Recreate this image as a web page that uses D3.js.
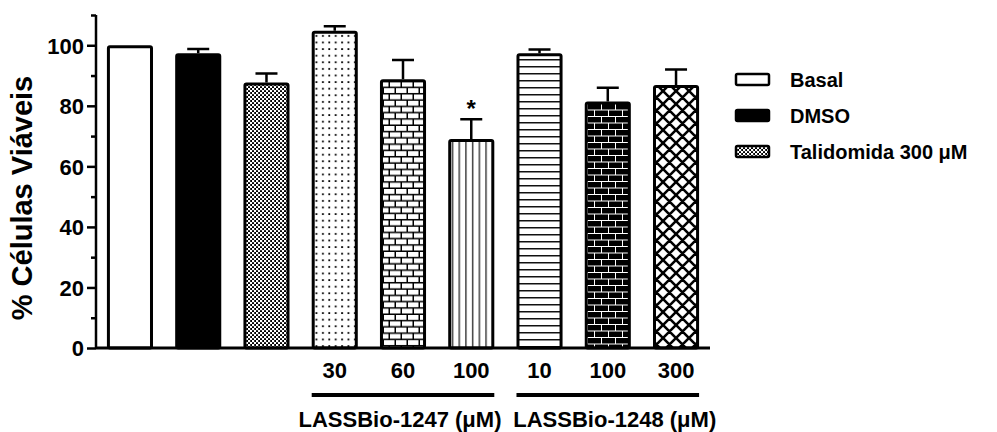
<!DOCTYPE html>
<html>
<head>
<meta charset="utf-8">
<script src="https://cdn.jsdelivr.net/npm/d3@7"></script>
<style>
  body { margin: 0; background: #fff; }
  text { font-family: "Liberation Sans", Arial, sans-serif; font-weight: bold; fill: #000; }
</style>
</head>
<body>
<div id="chart"></div>
<script>
(function(){

// data
let ids = ['basal', 'dmso', 'tali', 'a30', 'a60', 'a100', 'b10', 'b100', 'b300']
let tickLabels = ['', '', '', '30', '60', '100', '10', '100', '300']
let means = [100, 97.4, 87.7, 104.8, 88.8, 69.0, 97.4, 81.4, 86.9]
let sems = [0, 1.4, 3.0, 1.5, 6.3, 6.6, 1.2, 4.6, 5.1]
let fills = ['#fff', '#000', 'url(#checker)', 'url(#dots)', 'url(#brickW)', 'url(#vlines)', 'url(#hlines)', 'url(#brickB)', 'url(#cross)']
let groups = [
  { label: 'LASSBio-1247 (\u03bcM)', from: 'a30', to: 'a100' },
  { label: 'LASSBio-1248 (\u03bcM)', from: 'b10', to: 'b300' }
]
let legendLabels = ['Basal', 'DMSO', 'Talidomida 300 \u03bcM']
let stars = [{ id: 'a100', text: '*' }]

let width = 997, height = 432

let svg = d3.select('#chart').append('svg')
  .attr('width', width)
  .attr('height', height)

// patterns
let defs = svg.append('defs')

let p = defs.append('pattern').attr('id', 'checker').attr('patternUnits', 'userSpaceOnUse')
  .attr('width', 4).attr('height', 4)
p.append('rect').attr('width', 4).attr('height', 4).attr('fill', '#000')
p.append('rect').attr('x', 0).attr('y', 0).attr('width', 2.2).attr('height', 2.2).attr('fill', '#fff')
p.append('rect').attr('x', 2).attr('y', 2).attr('width', 2.2).attr('height', 2.2).attr('fill', '#fff')

p = defs.append('pattern').attr('id', 'dots').attr('patternUnits', 'userSpaceOnUse')
  .attr('width', 6.4).attr('height', 6.6)
p.append('rect').attr('width', 6.4).attr('height', 6.6).attr('fill', '#fff')
p.append('rect').attr('x', 2).attr('y', 2).attr('width', 1.8).attr('height', 1.8).attr('fill', '#000')

p = defs.append('pattern').attr('id', 'brickW').attr('patternUnits', 'userSpaceOnUse')
  .attr('width', 12).attr('height', 12.6)
p.append('rect').attr('width', 12).attr('height', 12.6).attr('fill', '#000')
p.append('rect').attr('x', 0).attr('y', 0).attr('width', 10.5).attr('height', 4.8).attr('fill', '#fff')
p.append('rect').attr('x', 6).attr('y', 6.3).attr('width', 10.5).attr('height', 4.8).attr('fill', '#fff')
p.append('rect').attr('x', -6).attr('y', 6.3).attr('width', 10.5).attr('height', 4.8).attr('fill', '#fff')

p = defs.append('pattern').attr('id', 'vlines').attr('patternUnits', 'userSpaceOnUse')
  .attr('width', 6.7).attr('height', 10)
p.append('rect').attr('width', 6.7).attr('height', 10).attr('fill', '#fff')
p.append('rect').attr('x', 3).attr('width', 1.3).attr('height', 10).attr('fill', '#222')

p = defs.append('pattern').attr('id', 'hlines').attr('patternUnits', 'userSpaceOnUse')
  .attr('width', 10).attr('height', 7)
p.append('rect').attr('width', 10).attr('height', 7).attr('fill', '#fff')
p.append('rect').attr('y', 3).attr('width', 10).attr('height', 1.5).attr('fill', '#111')

p = defs.append('pattern').attr('id', 'brickB').attr('patternUnits', 'userSpaceOnUse')
  .attr('width', 14).attr('height', 13)
p.append('rect').attr('width', 14).attr('height', 13).attr('fill', '#fff')
p.append('rect').attr('x', 0).attr('y', 0).attr('width', 13).attr('height', 5.5).attr('fill', '#000')
p.append('rect').attr('x', 7).attr('y', 6.5).attr('width', 13).attr('height', 5.5).attr('fill', '#000')
p.append('rect').attr('x', -7).attr('y', 6.5).attr('width', 13).attr('height', 5.5).attr('fill', '#000')

p = defs.append('pattern').attr('id', 'cross').attr('patternUnits', 'userSpaceOnUse')
  .attr('width', 13).attr('height', 13)
p.append('rect').attr('width', 13).attr('height', 13).attr('fill', '#fff')
p.append('path').attr('d', 'M-2,-2 L15,15 M-2,11 L2,15 M11,-2 L15,2 M15,-2 L-2,15 M2,-2 L-2,2 M15,11 L11,15')
  .attr('stroke', '#000').attr('stroke-width', 2.6)

// scales
let x = d3.scaleBand()
  .domain(ids)
  .range([96, 710])
  .paddingInner(0.325)
  .paddingOuter(0.16)

let y = d3.scaleLinear().domain([0, 110]).range([348, 15])

// y axis
let yAxis = d3.axisLeft(y).tickValues([0, 20, 40, 60, 80, 100]).tickSize(9).tickPadding(3)
let gy = svg.append('g').attr('transform', 'translate(96,0)').call(yAxis)
gy.select('.domain').attr('stroke-width', 2.5).attr('d', 'M0,' + y(110) + 'V' + y(0))
gy.selectAll('.tick line').attr('stroke-width', 2.5)
gy.selectAll('.tick text').style('font-size', '22px').attr('dy', '0.36em')

let minor = d3.axisLeft(y).tickValues([10, 30, 50, 70, 90, 110]).tickSize(5).tickFormat('')
let gm = svg.append('g').attr('transform', 'translate(96,0)').call(minor)
gm.select('.domain').remove()
gm.selectAll('.tick line').attr('stroke-width', 2.5)

svg.append('text')
  .attr('transform', 'translate(32,' + 198 + ') rotate(-90)')
  .attr('text-anchor', 'middle')
  .style('font-size', '29px')
  .text('% Células Viáveis')

// bars
let data = ids.map((id, i) => ({ id: id, mean: means[i], sem: sems[i], fill: fills[i], tick: tickLabels[i] }))

svg.selectAll('.err')
  .data(data.filter(d => d.sem > 0))
  .enter().append('path')
  .attr('class', 'err')
  .attr('fill', 'none')
  .attr('stroke', '#000')
  .attr('stroke-width', 2.5)
  .attr('d', function(d){
    let cx = x(d.id) + x.bandwidth() / 2
    return 'M' + cx + ',' + y(d.mean) + 'V' + y(d.mean + d.sem) + 'M' + (cx - 11) + ',' + y(d.mean + d.sem) + 'H' + (cx + 11)
  })

svg.selectAll('.bar')
  .data(data)
  .enter().append('rect')
  .attr('class', 'bar')
  .attr('x', d => x(d.id) + 1.5)
  .attr('width', x.bandwidth() - 3)
  .attr('y', d => y(d.mean) + 1.5)
  .attr('height', d => y(0) - y(d.mean) - 1.5)
  .attr('rx', 1.5)
  .attr('fill', d => d.fill)
  .attr('stroke', '#000')
  .attr('stroke-width', 3)

// x axis line
svg.append('path')
  .attr('d', 'M96,' + y(0) + 'H710')
  .attr('stroke', '#000')
  .attr('stroke-width', 3)

// category labels
svg.selectAll('.cat')
  .data(data.filter(d => d.tick))
  .enter().append('text')
  .attr('class', 'cat')
  .attr('x', d => x(d.id) + x.bandwidth() / 2)
  .attr('y', 378)
  .attr('text-anchor', 'middle')
  .style('font-size', '22px')
  .text(d => d.tick)

// group lines and labels
groups.forEach(function(g, i){
  let x0 = x(g.from), x1 = x(g.to) + x.bandwidth()
  svg.append('path')
    .attr('d', 'M' + x0 + ',395H' + x1)
    .attr('stroke', '#000')
    .attr('stroke-width', 4)
  svg.append('text')
    .attr('x', (x0 + x1) / 2 + (i === 0 ? -3 : 7))
    .attr('y', 427)
    .attr('text-anchor', 'middle')
    .style('font-size', '22px')
    .text(g.label)
})

// significance
stars.forEach(function(s){
  let d = data.find(e => e.id === s.id)
  svg.append('text')
    .attr('x', x(s.id) + x.bandwidth() / 2)
    .attr('y', y(d.mean + d.sem) - 2)
    .attr('text-anchor', 'middle')
    .style('font-size', '24px')
    .text(s.text)
})

// legend
let legend = svg.append('g').attr('transform', 'translate(735,73)')
legendLabels.forEach(function(l, i){
  let row = legend.append('g').attr('transform', 'translate(0,' + (i * 36) + ')')
  row.append('rect')
    .attr('x', 1).attr('y', 1)
    .attr('width', 33).attr('height', 11)
    .attr('rx', 1.5)
    .attr('fill', fills[i])
    .attr('stroke', '#000')
    .attr('stroke-width', 2.5)
  row.append('text')
    .attr('x', 55)
    .attr('y', 14)
    .style('font-size', '20px')
    .text(l)
})

})()
</script>
</body>
</html>
